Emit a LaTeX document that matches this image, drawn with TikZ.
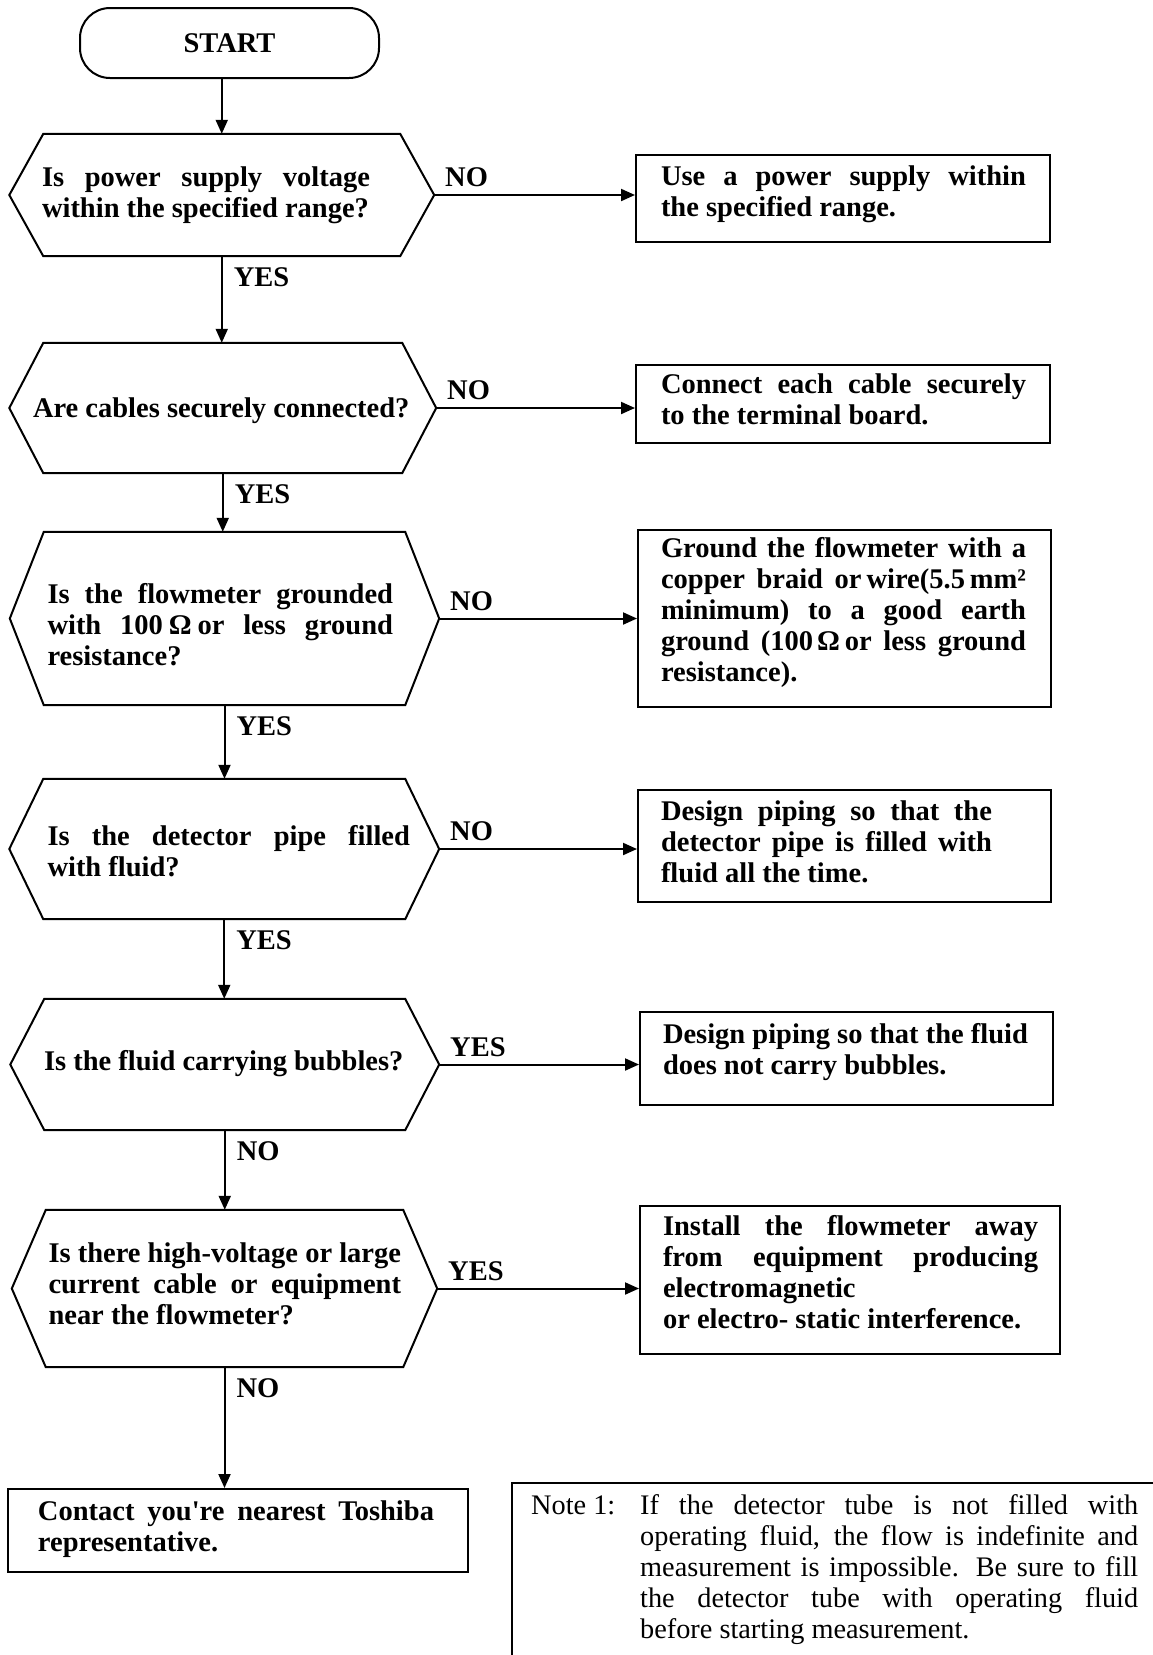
\documentclass[tikz,border=0pt]{standalone}
\usepackage{fontspec}
\setmainfont{Liberation Serif}
\usetikzlibrary{arrows.meta}
\newcommand\up[1]{\rule{0pt}{#1pt}}
\newcommand\dn[1]{\rule[-#1pt]{0pt}{0pt}}
\newcommand\tx[4]{\hspace*{#1pt}\parbox{#2pt}{\tolerance=10000\relax\hyphenpenalty=10000\relax\exhyphenpenalty=10000\relax\hbadness=10000\relax #4}\hspace*{#3pt}}
\newcommand\hexoutline[1]{%
  \draw[frame] ([xshift=34pt]#1.north west) -- ([xshift=-34pt]#1.north east) -- (#1.east)
    -- ([xshift=-34pt]#1.south east) -- ([xshift=34pt]#1.south west) -- (#1.west) -- cycle;}
\begin{document}
\begin{tikzpicture}[x=1pt,y=-1pt,
  every node/.style={inner sep=0pt},
  bold/.style={font=\bfseries\fontsize{28.5}{31}\selectfont},
  frame/.style={draw, line width=2pt, line join=miter},
  arr/.style={line width=2pt, -{Triangle[length=14pt,width=12pt]}},
  boxq/.style={bold, draw, line width=2pt},
  hexq/.style={bold},
  hlab/.style={bold, anchor=south west, xshift=10pt, yshift=7pt},
  vlab/.style={bold, anchor=north west, xshift=11pt, yshift=-10pt},
]
\useasboundingbox (0,0) rectangle (1153,1655);

% start
\node[bold, draw, line width=2pt, rounded corners=30pt, minimum width=299pt, minimum height=70pt] (start) at (229.5,43) {START};

% decisions
\node[hexq, minimum width=424.5pt, minimum height=122pt] (h1) at (221.75,195)
  {\tx{32.5}{328}{64}{\up{35}Is power supply voltage\linebreak within the specified range?\dn{21}}};
\hexoutline{h1}
\node[hexq, minimum width=426.5pt, minimum height=130pt] (h2) at (222.75,408)
  {\tx{23.5}{379}{24}{\up{34}Are cables securely connected?\dn{15}}};
\hexoutline{h2}
\node[hexq, minimum width=429pt, minimum height=173pt] (h3) at (224.5,618.5)
  {\tx{37.5}{345.5}{46}{\up{36}Is the flowmeter grounded\linebreak with 100\hspace{6pt}Ω\hspace{6pt}or less ground\linebreak resistance?\dn{4}}};
\hexoutline{h3}
\node[hexq, minimum width=429.5pt, minimum height=140pt] (h4) at (224.25,849)
  {\tx{38}{362.5}{29}{\up{34}Is the detector pipe filled\linebreak with fluid?\dn{11}}};
\hexoutline{h4}
\node[hexq, minimum width=428.5pt, minimum height=131pt] (h5) at (224.75,1064.5)
  {\tx{33.5}{367}{28}{\up{36}Is the fluid carrying bubbles?\dn{24}}};
\hexoutline{h5}
\node[hexq, minimum width=425pt, minimum height=157pt] (h6) at (224.5,1288.5)
  {\tx{36.5}{352.5}{36}{\up{36}Is there high-voltage or large\linebreak current cable or equipment\linebreak near the flowmeter?\dn{26}}};
\hexoutline{h6}

% action boxes
\node[boxq, minimum width=414pt, minimum height=87pt] (b1) at (843,198.5)
  {\tx{25}{365}{24}{\up{25}Use a power supply within\linebreak the specified range.\dn{20}}};
\node[boxq, minimum width=414pt, minimum height=78pt] (b2) at (843,404)
  {\tx{25}{365}{24}{\up{28}Connect each cable securely\linebreak to the terminal board.\dn{18}}};
\node[boxq, minimum width=413pt, minimum height=177pt] (b3) at (844.5,618.5)
  {\tx{23}{365}{25}{\up{25}Ground the flowmeter with a\linebreak copper braid or\hspace{5pt}wire(5.5\hspace{5pt}mm²\linebreak minimum) to a good earth\linebreak ground (100\hspace{4pt}Ω\hspace{5pt}or less ground\linebreak resistance).\dn{23}}};
\node[boxq, minimum width=413pt, minimum height=112pt] (b4) at (844.5,846)
  {\tx{23}{331}{59}{\up{27}Design piping so that the\linebreak detector pipe is filled with\linebreak fluid all the time.\dn{17}}};
\node[boxq, minimum width=413pt, minimum height=93pt] (b5) at (846.5,1058)
  {\tx{23}{365}{25}{\up{27}Design piping so that the fluid\linebreak does not carry bubbles.\dn{26}}};
\node[boxq, minimum width=420pt, minimum height=148pt] (b6) at (850,1280)
  {\tx{23}{375}{22}{\up{26}Install the flowmeter away\linebreak from equipment producing\linebreak electromagnetic\newline or electro- static interference.\dn{23}}};
\node[boxq, minimum width=460pt, minimum height=83pt] (fin) at (238,1530.5)
  {\tx{30}{396}{34}{\up{25}Contact you\textquotesingle re nearest Toshiba\linebreak representative.\dn{14}}};

% note
\draw[frame] (1158,1483) -- (512,1483) -- (512,1660);
\node[anchor=north west, font=\fontsize{28.3}{31}\selectfont] (note) at (531,1492)
  {\makebox[109pt][l]{\up{22}Note 1:}\parbox[t]{498pt}{\tolerance=10000\relax\hyphenpenalty=10000\relax\hbadness=10000\relax\up{22}If the detector tube is not filled with\linebreak operating fluid, the flow is indefinite and\linebreak measurement is impossible. Be sure to fill\linebreak the detector tube with operating fluid\linebreak before starting measurement.}};

% vertical flow
\draw[arr] (start.south -| h1.north) -- (h1.north);
\draw[arr] (h1.south) -- node[vlab, pos=0] {YES} (h1.south |- h2.north);
\draw[arr] (h2.south) -- node[vlab, pos=0] {YES} (h2.south |- h3.north);
\draw[arr] (h3.south) -- node[vlab, pos=0] {YES} (h3.south |- h4.north);
\draw[arr] (h4.south) -- node[vlab, pos=0] {YES} (h4.south |- h5.north);
\draw[arr] (h5.south) -- node[vlab, pos=0] {NO} (h5.south |- h6.north);
\draw[arr] (h6.south) -- node[vlab, pos=0] {NO} (h6.south |- fin.north);

% horizontal branches
\draw[arr] (h1.east) -- node[hlab, pos=0] {NO} (h1.east -| b1.west);
\draw[arr] (h2.east) -- node[hlab, pos=0] {NO} (h2.east -| b2.west);
\draw[arr] (h3.east) -- node[hlab, pos=0] {NO} (h3.east -| b3.west);
\draw[arr] (h4.east) -- node[hlab, pos=0] {NO} (h4.east -| b4.west);
\draw[arr] (h5.east) -- node[hlab, pos=0] {YES} (h5.east -| b5.west);
\draw[arr] (h6.east) -- node[hlab, pos=0] {YES} (h6.east -| b6.west);
\end{tikzpicture}
\end{document}
